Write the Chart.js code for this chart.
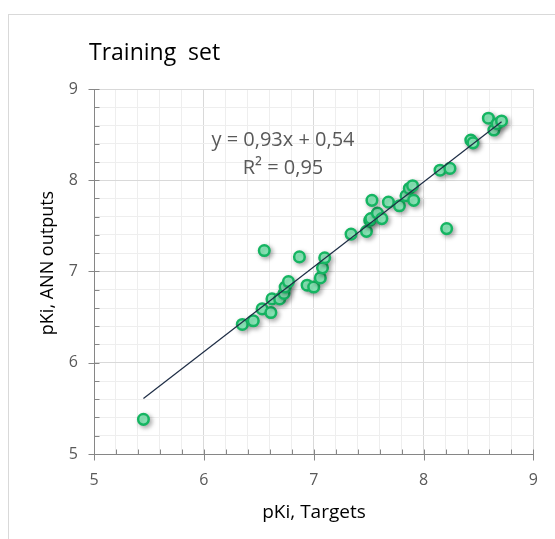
<!DOCTYPE html>
<html>
<head>
<meta charset="utf-8">
<script src="https://cdn.jsdelivr.net/npm/chart.js@4.4.1/dist/chart.umd.min.js"></script>
<style>
  html, body { margin: 0; padding: 0; background: #ffffff; }
  #wrap { width: 555px; height: 539px; position: relative; }
</style>
</head>
<body>
<div id="wrap"><canvas id="chart" width="555" height="539"></canvas></div>
<script>
// Training set: experimental pKi (targets) vs. network predictions (outputs)
const targets = [5.45, 6.35, 6.45, 6.53, 6.61, 6.62, 6.69, 6.73, 6.74, 6.77,
                 6.94, 7.00, 7.06, 7.08, 7.10, 6.87, 6.55, 7.34, 7.48, 7.51,
                 7.52, 7.58, 7.62, 7.53, 7.68, 7.78, 7.84, 7.87, 7.90, 7.91,
                 8.21, 8.15, 8.24, 8.43, 8.45, 8.59, 8.64, 8.67, 8.71];
const outputs = [5.38, 6.42, 6.46, 6.59, 6.55, 6.70, 6.70, 6.76, 6.83, 6.89,
                 6.85, 6.83, 6.93, 7.04, 7.15, 7.16, 7.23, 7.41, 7.44, 7.56,
                 7.58, 7.64, 7.58, 7.78, 7.76, 7.72, 7.83, 7.91, 7.94, 7.78,
                 7.47, 8.11, 8.13, 8.44, 8.41, 8.68, 8.55, 8.62, 8.65];

// Linear fit reported on the chart
const fitSlope = 0.93;
const fitIntercept = 0.54;
const fitR2 = 0.95;

// Axis range and minor tick spacing
const axisMin = 5;
const axisMax = 9;
const minorStep = 0.2;

const fmt = v => v.toFixed(2).replace('.', ',');
const equationText = `y = ${fmt(fitSlope)}x + ${fmt(fitIntercept)}`;
const r2Text = `R\u00B2 = ${fmt(fitR2)}`;

const points = targets.map((x, i) => ({ x, y: outputs[i] }));
const xLo = Math.min(...targets), xHi = Math.max(...targets);
const fitLine = [xLo, xHi].map(x => ({ x, y: fitSlope * x + fitIntercept }));

const isMajor = v => Math.abs(v - Math.round(v)) < 1e-6;

// Outer frame, drop shadows, axis tick marks and text annotations
const decorations = {
  id: 'decorations',
  beforeDraw(chart) {
    const ctx = chart.ctx;
    ctx.save();
    ctx.strokeStyle = '#d9d9d9';
    ctx.lineWidth = 1;
    ctx.strokeRect(8.5, 14.5, 800, 800);
    ctx.restore();
  },
  beforeDatasetDraw(chart, args) {
    if (chart.data.datasets[args.index].label === 'Training') {
      const ctx = chart.ctx;
      ctx.save();
      ctx.shadowColor = 'rgba(0,0,0,0.32)';
      ctx.shadowBlur = 5;
      ctx.shadowOffsetX = 2;
      ctx.shadowOffsetY = 2;
    }
  },
  afterDatasetDraw(chart, args) {
    if (chart.data.datasets[args.index].label === 'Training') {
      chart.ctx.restore();
    }
  },
  beforeDatasetsDraw(chart) {
    const { ctx, scales: { x, y }, chartArea } = chart;
    ctx.save();
    ctx.strokeStyle = '#868686';
    ctx.lineWidth = 1;
    ctx.beginPath();
    for (let v = axisMin; v <= axisMax + 1e-6; v += minorStep) {
      const major = isMajor(v);
      const py = Math.round(y.getPixelForValue(v)) + 0.5;
      const ax = Math.round(chartArea.left) + 0.5;
      ctx.moveTo(major ? ax - 6 : ax, py);
      ctx.lineTo(ax + 5, py);
      const px = Math.round(x.getPixelForValue(v)) + 0.5;
      const ay = Math.round(chartArea.bottom) + 0.5;
      ctx.moveTo(px, major ? ay + 6 : ay);
      ctx.lineTo(px, ay - 5);
    }
    ctx.stroke();
    ctx.restore();
  },
  afterDraw(chart) {
    const ctx = chart.ctx;
    ctx.save();
    ctx.textBaseline = 'alphabetic';
    // chart title
    ctx.fillStyle = '#000000';
    ctx.font = '23px "Open Sans"';
    ctx.textAlign = 'left';
    ctx.fillText('Training  set', 89, 60);
    // y-axis title
    ctx.save();
    ctx.translate(53, 263);
    ctx.rotate(-Math.PI / 2);
    ctx.textAlign = 'center';
    ctx.font = '18px "Open Sans"';
    ctx.fillText('pKi, ANN outputs', 0, 0);
    ctx.restore();
    // x-axis title
    ctx.textAlign = 'center';
    ctx.font = '19px "Open Sans"';
    ctx.fillText('pKi, Targets', 314, 518);
    // fit equation
    ctx.fillStyle = '#595959';
    ctx.font = '20px "Open Sans"';
    ctx.fillText(equationText, 283, 146);
    ctx.fillText(r2Text, 283, 174);
    ctx.restore();
  }
};

const gridColor = c => (c.tick && isMajor(c.tick.value)) ? '#d9d9d9' : '#eeeeee';
const tickLabel = v => isMajor(v) ? String(Math.round(v)) : '';

new Chart(document.getElementById('chart'), {
  type: 'scatter',
  data: {
    datasets: [
      {
        label: 'Fit',
        type: 'line',
        data: fitLine,
        borderColor: '#1e2d45',
        borderWidth: 1.2,
        pointRadius: 0,
        fill: false,
        order: 0
      },
      {
        label: 'Training',
        data: points,
        backgroundColor: '#92f5c3',
        borderColor: '#15b562',
        borderWidth: 2.5,
        pointRadius: 5.3,
        pointHoverRadius: 5.3,
        order: 1
      }
    ]
  },
  options: {
    responsive: false,
    animation: false,
    devicePixelRatio: 1,
    layout: { padding: { top: 89, right: 21, left: 0, bottom: 0 } },
    plugins: { legend: { display: false }, tooltip: { enabled: false }, title: { display: false } },
    scales: {
      x: {
        type: 'linear',
        min: axisMin, max: axisMax,
        afterFit: s => { s.height = 85; },
        ticks: {
          stepSize: minorStep, autoSkip: false, maxRotation: 0,
          callback: tickLabel,
          color: '#595959', font: { family: '"Open Sans"', size: 16 }, padding: 17
        },
        grid: { color: gridColor, drawTicks: false, lineWidth: 1 },
        border: { display: true, color: '#868686', width: 1 }
      },
      y: {
        type: 'linear',
        min: axisMin, max: axisMax,
        afterFit: s => { s.width = 94; },
        ticks: {
          stepSize: minorStep, autoSkip: false,
          callback: tickLabel,
          color: '#595959', font: { family: '"Open Sans"', size: 16 }, padding: 16
        },
        grid: { color: gridColor, drawTicks: false, lineWidth: 1 },
        border: { display: true, color: '#868686', width: 1 }
      }
    }
  },
  plugins: [decorations]
});
</script>
</body>
</html>
